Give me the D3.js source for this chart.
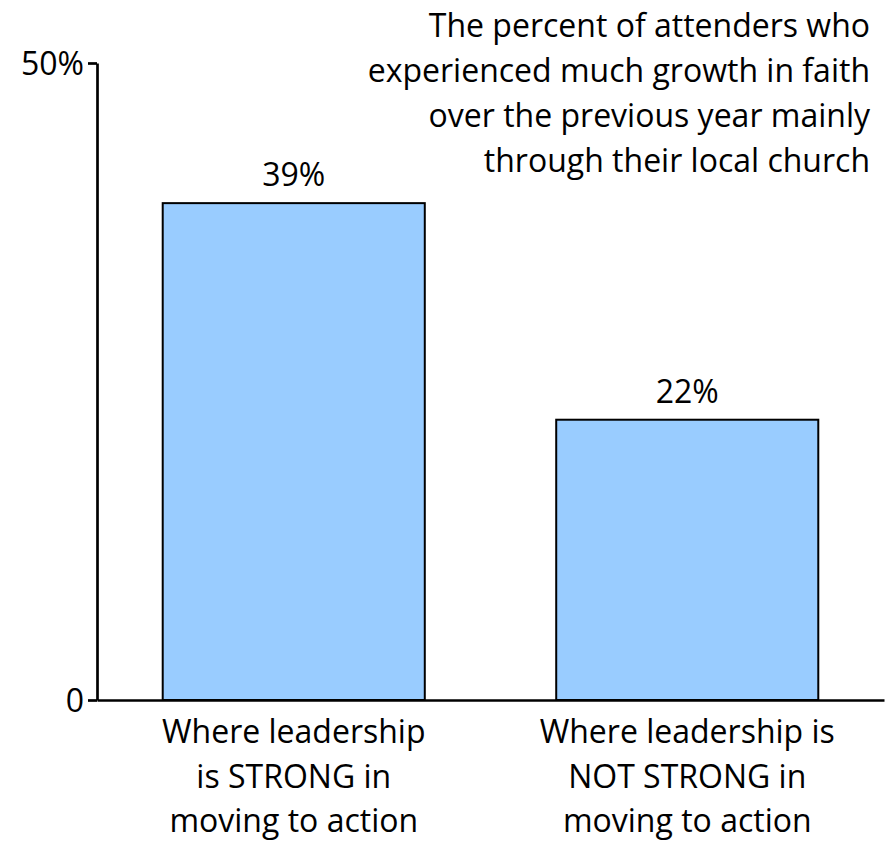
<!DOCTYPE html>
<html><head><meta charset="utf-8">
<script src="https://cdn.jsdelivr.net/npm/d3@7"></script>
<style>body{margin:0;background:#fff;} text{font-family:"Open Sans","Noto Sans",sans-serif;fill:#000;}</style>
</head><body>
<svg id="c" width="895" height="841"></svg>
<script>
const categories = ["Where leadership|is STRONG in|moving to action", "Where leadership is|NOT STRONG in|moving to action"];
const values = [39, 22];
const valueLabels = ["39%", "22%"];
const yTicks = [0, 50];
const yTickLabels = ["0", "50%"];
const titleLines = ["The percent of attenders who", "experienced much growth in faith", "over the previous year mainly", "through their local church"];

const FS = "32px";
const svg = d3.select("#c");
const x = d3.scaleBand().domain(categories).range([97, 884]).paddingInner(0.334).paddingOuter(0.167);
const y = d3.scaleLinear().domain([0, 50]).range([700, 63]);

// bars
svg.selectAll("rect.bar").data(values).join("rect")
  .attr("x", (d,i) => x(categories[i]))
  .attr("y", d => y(d))
  .attr("width", x.bandwidth())
  .attr("height", d => y(0) - y(d))
  .attr("fill", "#99CCFF").attr("stroke", "#000").attr("stroke-width", 2);

// value labels
svg.selectAll("text.val").data(values).join("text")
  .attr("x", (d,i) => x(categories[i]) + x.bandwidth()/2)
  .attr("y", d => y(d) - 17)
  .attr("text-anchor", "middle").style("font-size", FS)
  .text((d,i) => valueLabels[i]);

// y axis
const yAxis = d3.axisLeft(y).tickValues(yTicks).tickFormat((d,i) => yTickLabels[i]).tickSize(9).tickSizeOuter(0);
const gy = svg.append("g").attr("transform", "translate(97,0)").call(yAxis);
gy.select(".domain").attr("stroke", "#000").attr("stroke-width", 2.7);
gy.selectAll(".tick line").attr("stroke", "#000").attr("stroke-width", 2.7);
gy.selectAll(".tick text").style("font-size", FS).attr("x", -13).attr("dy", "0.35em");

// x axis
const xAxis = d3.axisBottom(x).tickSize(0).tickFormat("");
const gx = svg.append("g").attr("transform", "translate(0,700)").call(xAxis);
gx.select(".domain").attr("stroke", "#000").attr("stroke-width", 2.7);

// category labels
categories.forEach((c, i) => {
  const t = svg.append("text").attr("text-anchor", "middle").style("font-size", FS)
    .attr("x", x(c) + x.bandwidth()/2).attr("y", 743);
  c.split("|").forEach((ln, j) => t.append("tspan").attr("x", x(c) + x.bandwidth()/2).attr("dy", j ? 44.5 : 0).text(ln));
});

// title
const tt = svg.append("text").attr("text-anchor", "end").style("font-size", FS).attr("y", 37);
titleLines.forEach((ln, j) => tt.append("tspan").attr("x", 870).attr("dy", j ? 45 : 0).text(ln));
</script>
</body></html>
